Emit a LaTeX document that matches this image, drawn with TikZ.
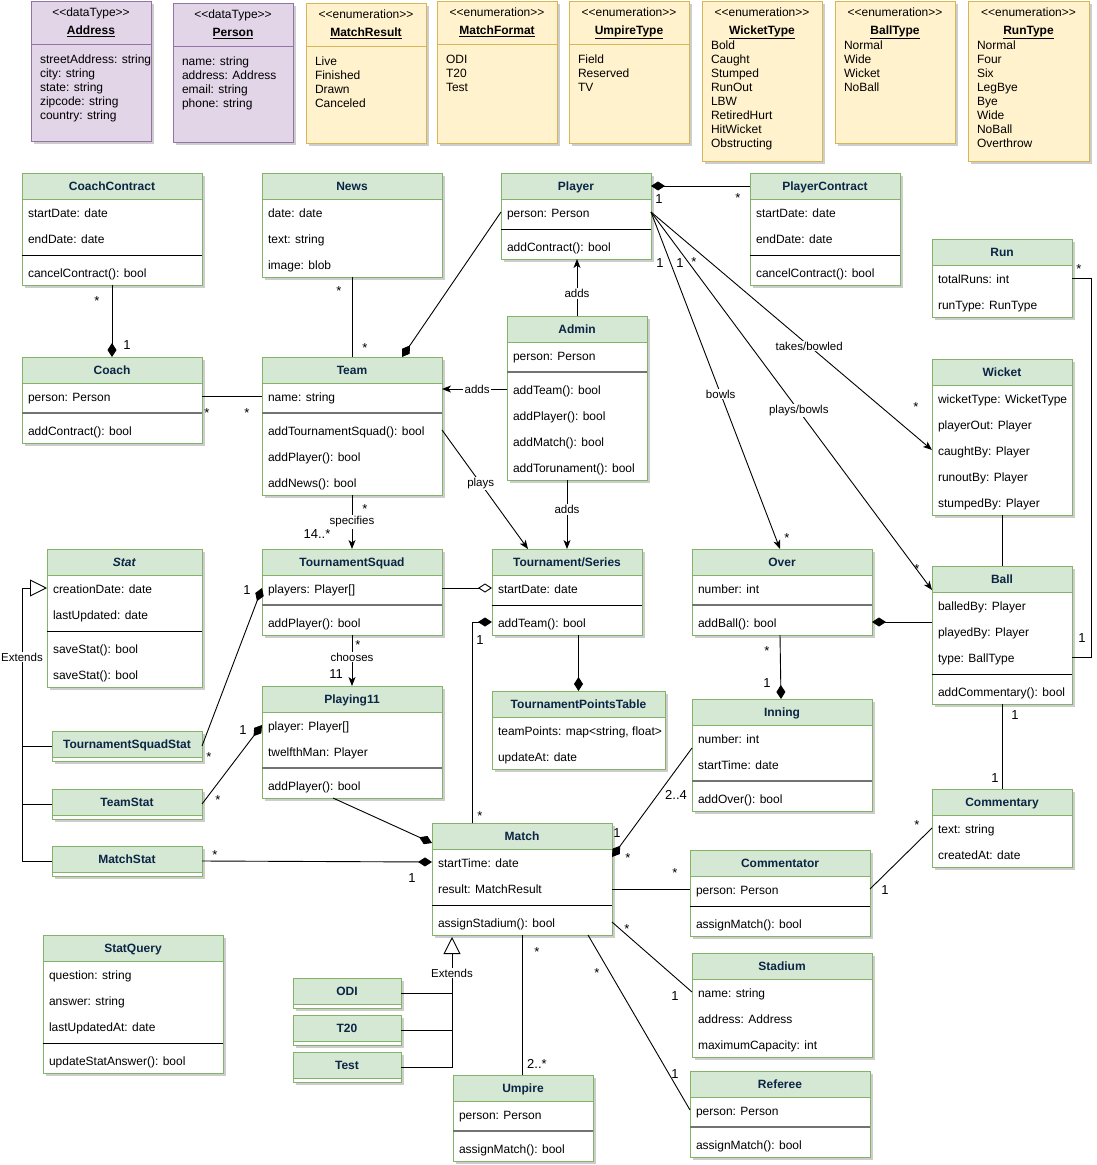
\documentclass[tikz,border=0pt]{standalone}
\usepackage{fontspec}
\setmainfont{Liberation Sans}
\usetikzlibrary{arrows.meta,calc}
\definecolor{gfill}{HTML}{D5E8D4}
\definecolor{gline}{HTML}{82B366}
\definecolor{yfill}{HTML}{FFF2CC}
\definecolor{yline}{HTML}{D6B656}
\definecolor{pfill}{HTML}{E1D5E7}
\definecolor{pline}{HTML}{9673A6}
\definecolor{titlec}{HTML}{0B2545}
\definecolor{shadowc}{HTML}{CDCDCD}
\newcommand\fs{\fontsize{12}{14}\selectfont}
\newcommand\stt[1]{\textless\kern0pt\textless#1\textgreater\kern0pt\textgreater}
\tikzset{
 every node/.style={inner sep=0pt,outer sep=0pt},
 clsbg/.style={fill=white,draw=none},
 ttl/.style={font=\fs\bfseries,text=titlec,text height=9pt,text depth=2.5pt},
 rowt/.style={font=\fs,text height=9pt,text depth=2.5pt,anchor=west},
 sepA/.style={draw=black,line width=0.9pt},
 sepB/.style={draw=black!55,line width=1.8pt},
 conn/.style={line width=0.9pt},
 arr/.style={conn,-{Stealth[length=9pt,width=7pt,inset=2.5pt]}},
 dia/.style={conn,-{Diamond[length=14pt,width=9pt]}},
 odia/.style={conn,-{Diamond[length=14pt,width=9pt,fill=white]}},
 gen/.style={conn,-{Triangle[length=17pt,width=17pt,fill=white]}},
 elab/.style={fill=white,font=\fontsize{11.5}{13}\selectfont,inner sep=1.2pt},
 mult/.style={font=\fontsize{13}{14}\selectfont},
 mstar/.style={mult,yshift=-3pt},
}
% class box: name, x, y, w, h, title
\newcommand\cls[6]{%
 \fill[shadowc] ({#2+3},{#3+3}) rectangle ++(#4,#5);
 \node[clsbg,minimum width=#4,minimum height=#5,anchor=north west] (#1) at (#2,#3) {};
 \fill[gfill] (#1.north west) rectangle ($(#1.north east)+(0,26)$);
 \draw[gline,line width=0.9pt] (#1.north west) rectangle (#1.south east);
 \draw[gline,line width=0.9pt] ($(#1.north west)+(0,26)$) -- ($(#1.north east)+(0,26)$);
 \node[ttl] (#1-t) at ($(#1.north)+(0,14.5)$) {#6};}
\newcommand\rw[3]{\node[rowt] (#1-r#2) at ($(#1.north west)+(6,{#2+2})$) {#3};}
\newcommand\sepl[3][sepA]{\draw[#1] ($(#2.north west)+(0,#3)$) -- ($(#2.north east)+(0,#3)$);}
% top boxes: name x y w h fill line
\newcommand\tbox[7]{%
 \fill[shadowc] ({#2+3},{#3+3}) rectangle ++(#4,#5);
 \node[fill=#6,draw=#7,line width=0.9pt,minimum width=#4,minimum height=#5,anchor=north west] (#1) at (#2,#3) {};}
\newcommand\tstereo[3]{\node[font=\fs,text height=9pt,text depth=2.5pt] (#1-s) at ($(#1.north)+(0,#2)$) {\stt{#3}};}
\newcommand\ttitle[3]{\node[font=\fs\bfseries,text height=9pt,text depth=2.5pt] (#1-n) at ($(#1.north)+(0,#2)$) {\underline{#3}};}
\newcommand\titems[3]{\foreach \itm [count=\i from 0] in {#3} {\node[rowt] (#1-i\i) at ($(#1.north west)+(9,{#2+1+14*\i})$) {\itm};}}
\newcommand\tsep[3]{\draw[#3,line width=0.9pt] ($(#1.north west)+(0,#2)$) -- ($(#1.north east)+(0,#2)$);}
\newcommand\ml[4]{\node[mult] (#1) at (#2,#3) {#4};}
\newcommand\ms[3]{\node[mstar] (#1) at (#2,#3) {*};}

\begin{document}
\begin{tikzpicture}[x=1pt,y=-1pt]
\fill[white] (0,0) rectangle (1096,1165);
\useasboundingbox (0,0) rectangle (1096,1165);

% ---------- top row ----------
\tbox{Address}{31}{1}{120}{140}{pfill}{pline}
\tstereo{Address}{12}{dataType}\ttitle{Address}{30}{Address}\tsep{Address}{43}{pline}
\titems{Address}{58}{streetAddress: string,city: string,state: string,zipcode: string,country: string}

\tbox{Person}{173}{3}{120}{139}{pfill}{pline}
\tstereo{Person}{12}{dataType}\ttitle{Person}{30}{Person}\tsep{Person}{43}{pline}
\titems{Person}{58}{name: string,address: Address,email: string,phone: string}

\tbox{MatchResult}{306}{3}{120}{140}{yfill}{yline}
\tstereo{MatchResult}{12}{enumeration}\ttitle{MatchResult}{30}{MatchResult}\tsep{MatchResult}{43}{yline}
\titems{MatchResult}{58}{Live,Finished,Drawn,Canceled}

\tbox{MatchFormat}{437}{1}{120}{142}{yfill}{yline}
\tstereo{MatchFormat}{12}{enumeration}\ttitle{MatchFormat}{30}{MatchFormat}\tsep{MatchFormat}{43}{yline}
\titems{MatchFormat}{58}{ODI,T20,Test}

\tbox{UmpireType}{569}{1}{120}{142}{yfill}{yline}
\tstereo{UmpireType}{12}{enumeration}\ttitle{UmpireType}{30}{UmpireType}\tsep{UmpireType}{43}{yline}
\titems{UmpireType}{58}{Field,Reserved,TV}

\tbox{WicketType}{702}{1}{120}{160}{yfill}{yline}
\tstereo{WicketType}{12}{enumeration}\ttitle{WicketType}{30}{WicketType}
\titems{WicketType}{44}{Bold,Caught,Stumped,RunOut,LBW,RetiredHurt,HitWicket,Obstructing}

\tbox{BallType}{835}{1}{120}{142}{yfill}{yline}
\tstereo{BallType}{12}{enumeration}\ttitle{BallType}{30}{BallType}
\titems{BallType}{44}{Normal,Wide,Wicket,NoBall}

\tbox{RunType}{968}{1}{121}{160}{yfill}{yline}
\tstereo{RunType}{12}{enumeration}\ttitle{RunType}{30}{RunType}
\titems{RunType}{44}{Normal,Four,Six,LegBye,Bye,Wide,NoBall,Overthrow}

% ---------- classes ----------
\cls{CoachContract}{22}{173}{180}{112}{CoachContract}
\rw{CoachContract}{39}{startDate: date}\rw{CoachContract}{65}{endDate: date}
\sepl{CoachContract}{82}\rw{CoachContract}{99}{cancelContract(): bool}

\cls{News}{262}{173}{180}{104}{News}
\rw{News}{39}{date: date}\rw{News}{65}{text: string}\rw{News}{91}{image: blob}

\cls{Player}{501}{173}{150}{86}{Player}
\rw{Player}{39}{person: Person}\sepl{Player}{56}\rw{Player}{73}{addContract(): bool}

\cls{PlayerContract}{750}{173}{150}{112}{PlayerContract}
\rw{PlayerContract}{39}{startDate: date}\rw{PlayerContract}{65}{endDate: date}
\sepl{PlayerContract}{82}\rw{PlayerContract}{99}{cancelContract(): bool}

\cls{Run}{932}{239}{140}{78}{Run}
\rw{Run}{39}{totalRuns: int}\rw{Run}{65}{runType: RunType}

\cls{Coach}{22}{357}{180}{86}{Coach}
\rw{Coach}{39}{person: Person}\sepl[sepB]{Coach}{56}\rw{Coach}{73}{addContract(): bool}

\cls{Team}{262}{357}{180}{138}{Team}
\rw{Team}{39}{name: string}\sepl[sepB]{Team}{56}
\rw{Team}{73}{addTournamentSquad(): bool}\rw{Team}{99}{addPlayer(): bool}\rw{Team}{125}{addNews(): bool}

\cls{Admin}{507}{316}{140}{164}{Admin}
\rw{Admin}{39}{person: Person}\sepl[sepB]{Admin}{56}
\rw{Admin}{73}{addTeam(): bool}\rw{Admin}{99}{addPlayer(): bool}
\rw{Admin}{125}{addMatch(): bool}\rw{Admin}{151}{addTorunament(): bool}

\cls{Wicket}{932}{359}{140}{156}{Wicket}
\rw{Wicket}{39}{wicketType: WicketType}\rw{Wicket}{65}{playerOut: Player}
\rw{Wicket}{91}{caughtBy: Player}\rw{Wicket}{117}{runoutBy: Player}\rw{Wicket}{143}{stumpedBy: Player}

\cls{Stat}{47}{549}{155}{138}{\textit{Stat}}
\rw{Stat}{39}{creationDate: date}\rw{Stat}{65}{lastUpdated: date}
\sepl{Stat}{82}\rw{Stat}{99}{saveStat(): bool}\rw{Stat}{125}{saveStat(): bool}

\cls{TSquad}{262}{549}{180}{86}{TournamentSquad}
\rw{TSquad}{39}{players: Player[]}\sepl[sepB]{TSquad}{56}\rw{TSquad}{73}{addPlayer(): bool}

\cls{Tour}{492}{549}{150}{86}{Tournament/Series}
\rw{Tour}{39}{startDate: date}\sepl{Tour}{56}\rw{Tour}{73}{addTeam(): bool}

\cls{Over}{692}{549}{180}{86}{Over}
\rw{Over}{39}{number: int}\sepl[sepB]{Over}{56}\rw{Over}{73}{addBall(): bool}

\cls{Ball}{932}{566}{140}{138}{Ball}
\rw{Ball}{39}{balledBy: Player}\rw{Ball}{65}{playedBy: Player}\rw{Ball}{91}{type: BallType}
\sepl{Ball}{108}\rw{Ball}{125}{addCommentary(): bool}

\cls{TPT}{492}{691}{173}{78}{TournamentPointsTable}
\rw{TPT}{39}{teamPoints: map<string, float>}\rw{TPT}{65}{updateAt: date}

\cls{Playing11}{262}{686}{180}{112}{Playing11}
\rw{Playing11}{39}{player: Player[]}\rw{Playing11}{65}{twelfthMan: Player}
\sepl[sepB]{Playing11}{82}\rw{Playing11}{99}{addPlayer(): bool}

\cls{Inning}{692}{699}{180}{112}{Inning}
\rw{Inning}{39}{number: int}\rw{Inning}{65}{startTime: date}
\sepl[sepB]{Inning}{82}\rw{Inning}{99}{addOver(): bool}

\cls{TSS}{52}{731}{150}{30}{TournamentSquadStat}
\cls{TeamStat}{52}{789}{150}{30}{TeamStat}
\cls{MatchStat}{52}{846}{150}{30}{MatchStat}

\cls{Commentary}{932}{789}{140}{78}{Commentary}
\rw{Commentary}{39}{text: string}\rw{Commentary}{65}{createdAt: date}

\cls{Match}{432}{823}{180}{112}{Match}
\rw{Match}{39}{startTime: date}\rw{Match}{65}{result: MatchResult}
\sepl{Match}{82}\rw{Match}{99}{assignStadium(): bool}

\cls{Commentator}{690}{850}{180}{86}{Commentator}
\rw{Commentator}{39}{person: Person}\sepl{Commentator}{56}\rw{Commentator}{73}{assignMatch(): bool}

\cls{StatQuery}{43}{935}{180}{138}{StatQuery}
\rw{StatQuery}{39}{question: string}\rw{StatQuery}{65}{answer: string}\rw{StatQuery}{91}{lastUpdatedAt: date}
\sepl{StatQuery}{108}\rw{StatQuery}{125}{updateStatAnswer(): bool}

\cls{Stadium}{692}{953}{180}{104}{Stadium}
\rw{Stadium}{39}{name: string}\rw{Stadium}{65}{address: Address}\rw{Stadium}{91}{maximumCapacity: int}

\cls{ODI}{293}{978}{108}{30}{ODI}
\cls{T20}{293}{1015}{108}{30}{T20}
\cls{Test}{293}{1052}{108}{30}{Test}

\cls{Umpire}{453}{1075}{140}{86}{Umpire}
\rw{Umpire}{39}{person: Person}\sepl[sepB]{Umpire}{56}\rw{Umpire}{73}{assignMatch(): bool}

\cls{Referee}{690}{1071}{180}{86}{Referee}
\rw{Referee}{39}{person: Person}\sepl[sepB]{Referee}{56}\rw{Referee}{73}{assignMatch(): bool}

% ---------- connectors ----------
\draw[dia] (CoachContract.south) -- (Coach.north);
\draw[conn] ($(Coach.north east)+(0,39)$) -- ($(Team.north west)+(0,39)$);
\draw[conn] (News.south) -- (Team.north);
\draw[dia] ($(Player.north west)+(0,39)$) -- ($(Team.north west)+(140,0)$);
\draw[dia] ($(PlayerContract.north west)+(0,13)$) -- ($(Player.north east)+(0,13)$);
\draw[arr] (Admin.north) -- (Admin.north |- Player.south) node[elab,pos=0.4] (l-adds1) {adds};
\draw[arr] ($(Admin.north west)+(0,73)$) -- ($(Team.north east)+(0,32)$) node[elab,pos=0.46] (l-adds2) {adds};
\draw[arr] ($(Admin.south west)+(60,0)$) -- ($(Tour.north west)+(75,0)$) node[elab,pos=0.43] (l-adds3) {adds};
\draw[arr] ($(Team.north east)+(0,73)$) -- ($(Tour.north west)+(36,0)$) node[elab,pos=0.45] (l-plays) {plays};
\draw[arr] (Team.south) -- (TSquad.north) node[elab,pos=0.5] (l-spec) {specifies};
\draw[arr] (TSquad.south) -- (Playing11.north) node[elab,pos=0.43] (l-choose) {chooses};
\draw[odia] ($(TSquad.north east)+(0,39)$) -- ($(Tour.north west)+(0,39)$);
\draw[dia] (TSS.east) -- ($(TSquad.north west)+(0,39)$);
\draw[dia] (TeamStat.east) -- ($(Playing11.north west)+(0,39)$);
\draw[dia] (MatchStat.east) -- ($(Match.north west)+(0,39)$);
\draw[dia] ($(Playing11.south west)+(71,0)$) -- ($(Match.north west)+(0,20)$);
\draw[gen] (MatchStat.west) -| ($(Stat.north west)+(-25,39)$) -- ($(Stat.north west)+(0,39)$);
\draw[conn] (TSS.west) -- ++(-30,0);
\draw[conn] (TeamStat.west) -- ++(-30,0);
\node[elab] (l-ext1) at ($(Stat.north west)+(-25,108)$) {Extends};
\draw[gen] (Test.east) -| ($(Match.south west)+(20,2)$);
\draw[conn] (ODI.east) -- ++(51,0);
\draw[conn] (T20.east) -- ++(51,0);
\node[elab] (l-ext2) at ($(Match.south west)+(20,38)$) {Extends};
\draw[dia] ($(Match.north west)+(40,0)$) |- ($(Tour.north west)+(0,73)$);
\draw[dia] (TPT.north |- Tour.south) -- (TPT.north);
\draw[arr] ($(Player.north east)+(0,39)$) -- ($(Over.north west)+(88,0)$) node[elab,pos=0.54] (l-bowls) {bowls};
\draw[arr] ($(Player.north east)+(0,39)$) -- ($(Ball.north west)+(0,24)$) node[elab,pos=0.526] (l-pb) {plays/bowls};
\draw[arr] ($(Player.north east)+(0,39)$) -- ($(Wicket.north west)+(0,91)$) node[elab,pos=0.563] (l-tb) {takes/bowled};
\draw[conn] ($(Run.north east)+(0,39)$) -- ++(19,0) |- ($(Ball.north east)+(0,91)$);
\draw[conn] (Wicket.south) -- (Ball.north);
\draw[dia] ($(Ball.north west)+(0,56)$) -- ($(Over.north east)+(0,73)$);
\draw[dia] ($(Over.south west)+(88,0)$) -- ($(Inning.north west)+(89,0)$);
\draw[conn] (Ball.south) -- (Commentary.north);
\draw[dia] ($(Inning.north west)+(0,49)$) -- ($(Match.north east)+(0,34)$);
\draw[conn] ($(Match.north east)+(0,66)$) -- ($(Commentator.north west)+(0,39)$);
\draw[conn] ($(Commentator.north east)+(0,39)$) -- ($(Commentary.north west)+(0,39)$);
\draw[conn] ($(Match.north east)+(0,99)$) -- ($(Stadium.north west)+(0,39)$);
\draw[conn] ($(Match.south west)+(156,0)$) -- ($(Referee.north west)+(0,39)$);
\draw[conn] ($(Match.south west)+(90,0)$) -- ($(Umpire.north west)+(69,0)$);

% ---------- multiplicities ----------
\ms{m1}{97}{298}\ml{m2}{127}{345}{1}
\ms{m3}{207}{410}\ms{m4}{247}{410}
\ms{m5}{339}{288}\ms{m6}{365}{345}
\ml{m7}{659}{199}{1}\ms{m8}{738}{195}
\ms{m9}{365}{506}\ml{m10}{317}{534}{14..*}
\ms{m11}{358}{642}\ml{m12}{336}{674}{11}
\ml{m13}{247}{590}{1}\ms{m14}{209}{754}
\ml{m15}{243}{730}{1}\ms{m16}{218}{797}
\ms{m17}{215}{852}\ml{m18}{412}{878}{1}
\ml{m19}{480}{640}{1}\ms{m20}{480}{813}
\ml{m21}{660}{263}{1}\ml{m22}{680}{263}{1}\ms{m23}{694}{259}
\ms{m24}{787}{535}\ms{m25}{917}{566}\ms{m26}{916}{404}
\ms{m27}{1079}{266}\ml{m28}{1082}{638}{1}
\ms{m29}{767}{648}\ml{m30}{767}{683}{1}
\ml{m31}{1015}{715}{1}\ml{m32}{995}{778}{1}
\ml{m33}{676}{795}{2..4}\ml{m34}{617}{833}{1}\ms{m35}{628}{855}
\ms{m36}{675}{870}\ms{m37}{917}{822}\ml{m38}{885}{890}{1}
\ms{m39}{627}{926}\ml{m40}{675}{996}{1}
\ms{m41}{597}{970}\ml{m42}{675}{1074}{1}
\ms{m43}{537}{949}\ml{m44}{537}{1064}{2..*}
\end{tikzpicture}
\end{document}
